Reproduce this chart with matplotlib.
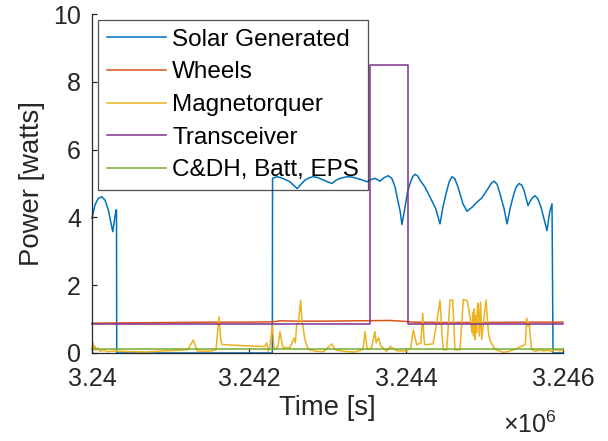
import numpy as np
import matplotlib
matplotlib.use('Agg')
import matplotlib.pyplot as plt
from matplotlib.ticker import FuncFormatter

plt.rcParams['font.family'] = ['Liberation Sans', 'DejaVu Sans']
plt.rcParams['mathtext.default'] = 'regular'

T0 = 3.24e6

# Solar panel output [W] vs time offset [s]
solar_t = [0, 38, 80, 124, 166, 208, 264, 306, 312, 315,
           2297, 2300, 2350, 2395, 2460, 2522, 2580, 2615, 2650, 2713, 2770, 2815, 2870,
           2930, 3000, 3057, 3110, 3159, 3248, 3310, 3376, 3450, 3503, 3560, 3605, 3669,
           3720, 3771, 3820, 3860, 3900, 3924, 3949, 3987, 4020, 4051, 4085, 4115, 4150,
           4178, 4240, 4306, 4380, 4433, 4470, 4510, 4550, 4586, 4620, 4662, 4726, 4777,
           4841, 4905, 4968, 5045, 5090, 5121, 5160, 5197, 5250, 5287, 5330, 5363, 5400,
           5439, 5475, 5503, 5554, 5600, 5643, 5680, 5720, 5796, 5830, 5860, 5873, 6000]
solar_p = [3.98, 4.37, 4.56, 4.61, 4.51, 4.22, 3.58, 4.22, 4.22, 0.0,
           0.0, 5.15, 5.2, 5.18, 5.12, 5.05, 4.92, 4.85, 4.95, 5.1, 5.17, 5.2, 5.18,
           5.12, 5.05, 5.0, 5.1, 5.15, 5.2, 5.19, 5.15, 5.1, 5.05, 5.12, 5.15, 5.07,
           5.17, 5.23, 5.15, 4.9, 4.45, 4.2, 3.79, 4.3, 4.75, 5.0, 5.2, 5.27, 5.22,
           5.1, 4.9, 4.6, 4.25, 3.81, 4.3, 4.7, 5.05, 5.2, 5.15, 4.9, 4.4, 4.18,
           4.3, 4.45, 4.58, 4.85, 5.02, 5.07, 4.98, 4.7, 4.25, 3.81, 4.3, 4.6, 4.88,
           5.0, 4.95, 4.8, 4.35, 4.55, 4.64, 4.55, 4.3, 3.61, 4.15, 4.4, 0.0, 0.0]

# Reaction wheels [W]
wheels_t = [0, 500, 1000, 1500, 2000, 2300, 2400, 2600, 3000, 3400, 3800, 4000,
            4100, 4500, 5000, 5500, 6000]
wheels_p = [0.88, 0.89, 0.9, 0.91, 0.91, 0.92, 0.95, 0.94, 0.94, 0.95, 0.96, 0.93,
            0.91, 0.9, 0.9, 0.91, 0.91]

# Magnetorquer [W]
mtq_t = [0, 13, 25, 38, 50, 70, 102, 150, 200, 300, 500, 700, 900, 1100, 1220, 1290,
         1340, 1500, 1580, 1618, 1640, 1656, 1800, 2000, 2200, 2225, 2245, 2268, 2297,
         2320, 2370, 2395, 2420, 2433, 2520, 2573, 2590, 2608, 2630, 2659, 2675, 2684,
         2713, 2755, 2850, 2950, 3054, 3096, 3200, 3350, 3452, 3478, 3500, 3516, 3560,
         3605, 3620, 3650, 3680, 3710, 3754, 3800, 3850, 3900, 4000, 4060, 4093, 4137,
         4190, 4213, 4230, 4242, 4344, 4391, 4433, 4460, 4475, 4518, 4561, 4595, 4624,
         4688, 4730, 4781, 4815, 4840, 4850, 4860, 4870, 4880, 4890, 4900, 4910, 4921,
         4935, 4950, 4964, 5019, 5050, 5070, 5134, 5197, 5236, 5300, 5400, 5452, 5520,
         5538, 5555, 5567, 5601, 5650, 5700, 5750, 5800, 5850, 5900, 5950, 6000]
mtq_p = [0.1, 0.3, 0.12, 0.2, 0.08, 0.15, 0.05, 0.08, 0.04, 0.06, 0.04, 0.03, 0.06,
         0.08, 0.1, 0.38, 0.06, 0.05, 0.1, 1.07, 0.4, 0.25, 0.23, 0.21, 0.19, 0.3, 0.05,
         0.2, 0.83, 0.1, 0.2, 0.63, 0.3, 0.17, 0.15, 0.44, 0.3, 0.83, 0.9, 1.56, 0.9,
         0.83, 0.38, 0.11, 0.05, 0.04, 0.27, 0.1, 0.05, 0.03, 0.1, 0.63, 0.2, 0.1, 0.15,
         0.63, 0.3, 0.45, 0.2, 0.15, 0.05, 0.2, 0.1, 0.06, 0.06, 0.15, 0.68, 0.24, 0.3,
         1.17, 0.4, 0.24, 0.27, 0.88, 1.56, 0.5, 0.09, 0.09, 1.56, 1.56, 0.09, 0.09,
         1.58, 1.54, 1.07, 0.6, 1.2, 0.5, 1.3, 0.4, 1.1, 0.6, 1.4, 1.47, 0.5, 1.5, 0.4,
         1.56, 0.6, 0.37, 0.1, 0.06, 0.02, 0.04, 0.12, 0.18, 0.25, 1.03, 0.8, 0.9, 0.1,
         0.05, 0.1, 0.06, 0.08, 0.05, 0.1, 0.07, 0.08]

# Transceiver [W]
trx_t = [0, 3541, 3541, 4029, 4029, 6000]
trx_p = [0.87, 0.87, 8.5, 8.5, 0.87, 0.87]

# C&DH, battery and EPS [W]
bus_t = [0, 6000]
bus_p = [0.12, 0.12]

labels = ['Solar Generated', 'Wheels', 'Magnetorquer', 'Transceiver', 'C&DH, Batt, EPS']
colors = ['#0072BD', '#D95319', '#EDB120', '#7E2F8E', '#77AC30']
series = [(solar_t, solar_p), (wheels_t, wheels_p), (mtq_t, mtq_p),
          (trx_t, trx_p), (bus_t, bus_p)]

fig = plt.figure(figsize=(6.08, 4.41), dpi=100)
ax = fig.add_axes([92/608, 1 - 353/441, 471/608, 339/441])

for (t, p), c, lab in zip(series, colors, labels):
    ax.plot(T0 + np.array(t), p, color=c, lw=1.1, label=lab, clip_on=False)

ax.set_xlim(3.24e6, 3.246e6)
ax.set_ylim(0, 10)
ax.set_xticks([3.24e6, 3.242e6, 3.244e6, 3.246e6])
ax.set_yticks([0, 2, 4, 6, 8, 10])
ax.xaxis.set_major_formatter(FuncFormatter(lambda v, pos: '%g' % (v / 1e6)))

dark = '#262626'
for s in ['top', 'right']:
    ax.spines[s].set_visible(False)
for s in ['left', 'bottom']:
    ax.spines[s].set_color(dark)
    ax.spines[s].set_linewidth(0.9)
ax.tick_params(direction='in', length=3.5, width=0.9, color=dark,
               labelcolor=dark, labelsize=18)
ax.tick_params(axis='y', pad=8)
ax.tick_params(axis='x', pad=10)

ax.set_xlabel('Time [s]', fontsize=19.8, color=dark, labelpad=3)
ax.set_ylabel('Power [watts]', fontsize=19.8, color=dark, labelpad=6)
ax.text(0.93, -0.212, '×10$^{6}$', transform=ax.transAxes, fontsize=18,
        color=dark, ha='center', va='center')

leg = ax.legend(loc='upper left', fontsize=17.5, frameon=True, fancybox=False,
                edgecolor=dark, handlelength=2.45, handletextpad=0.25,
                borderpad=0.35, borderaxespad=0.25, labelspacing=0.44)
leg.get_frame().set_facecolor('none')
leg.get_frame().set_linewidth(0.9)
for txt in leg.get_texts():
    txt.set_color('black')

fig.savefig('out.png', dpi=100)
